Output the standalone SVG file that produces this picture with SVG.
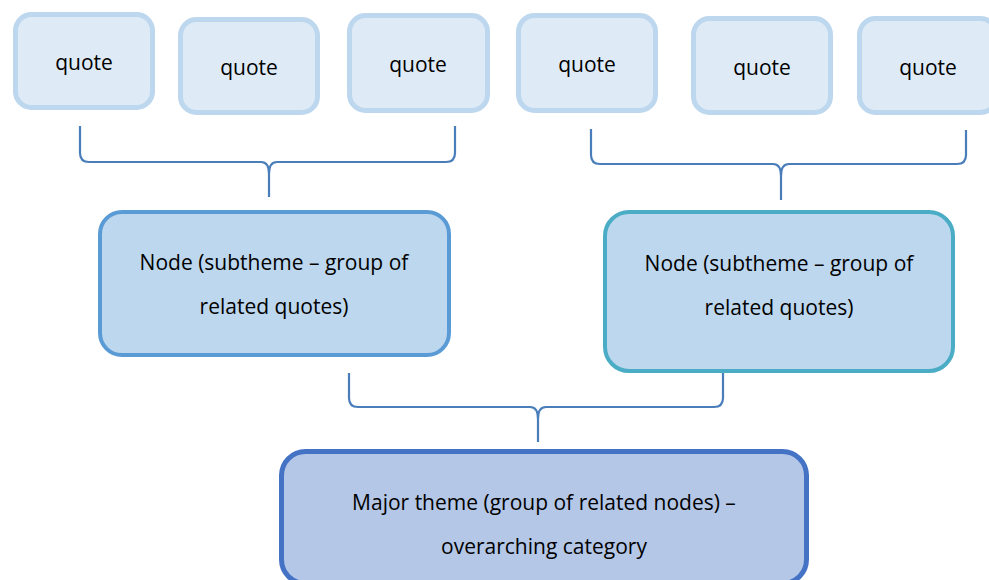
<svg xmlns="http://www.w3.org/2000/svg" width="989" height="580" viewBox="0 0 989 580">
  <style>
    .quote rect { fill: #DEEBF7; stroke: #BDD7EE; stroke-width: 5; }
    .sub rect { fill: #BDD7EE; stroke-width: 4; }
    .major rect { fill: #B4C7E7; stroke: #4472C4; stroke-width: 5; }
    text { font-family: "Open Sans", "Liberation Sans", sans-serif; font-size: 21px; fill: #000; text-anchor: middle; }
    .brace { fill: none; stroke: #4A7EBB; stroke-width: 2.2; stroke-linecap: butt; }
  </style>
  <rect width="989" height="580" fill="#FFFFFF"/>
  <g id="quote1" class="quote"><rect x="15.5" y="14.5" width="137" height="93" rx="16"/><text x="84" y="70">quote</text></g>
  <g id="quote2" class="quote"><rect x="180.5" y="19.5" width="137" height="93" rx="16"/><text x="249" y="75">quote</text></g>
  <g id="quote3" class="quote"><rect x="349.5" y="15.5" width="138" height="95" rx="16"/><text x="418" y="72">quote</text></g>
  <g id="quote4" class="quote"><rect x="518.5" y="15.5" width="137" height="95" rx="16"/><text x="587" y="72">quote</text></g>
  <g id="quote5" class="quote"><rect x="693.5" y="18.5" width="137" height="94" rx="16"/><text x="762" y="75">quote</text></g>
  <g id="quote6" class="quote"><rect x="859.5" y="18.5" width="137" height="94" rx="16"/><text x="928" y="75">quote</text></g>
  <g id="connectors">
    <path class="brace" d="M80,126 V153 Q80,162 89,162 H261 Q269,162 269,174 V197 M269,174 Q269,162 277,162 H446 Q455,162 455,153 V126"/>
    <path class="brace" d="M591,129 V155 Q591,164 600,164 H773 Q781,164 781,176 V200 M781,176 Q781,164 789,164 H957 Q966,164 966,155 V130"/>
    <path class="brace" d="M349,373 V398 Q349,407 358,407 H530 Q538,407 538,419 V442 M538,419 Q538,407 546,407 H714 Q723,407 723,398 V373"/>
  </g>
  <g id="node1" class="sub"><rect x="100" y="212" width="349" height="143" rx="22" stroke="#5B9BD5"/><text x="274" y="270">Node (subtheme – group of</text><text x="274" y="314">related quotes)</text></g>
  <g id="node2" class="sub"><rect x="605" y="212" width="348" height="159" rx="24" stroke="#4BACC6"/><text x="779" y="271">Node (subtheme – group of</text><text x="779" y="315">related quotes)</text></g>
  <g id="major" class="major"><rect x="281.5" y="451.5" width="525" height="132" rx="24"/><text x="544" y="510">Major theme (group of related nodes) –</text><text x="544" y="554">overarching category</text></g>
</svg>
